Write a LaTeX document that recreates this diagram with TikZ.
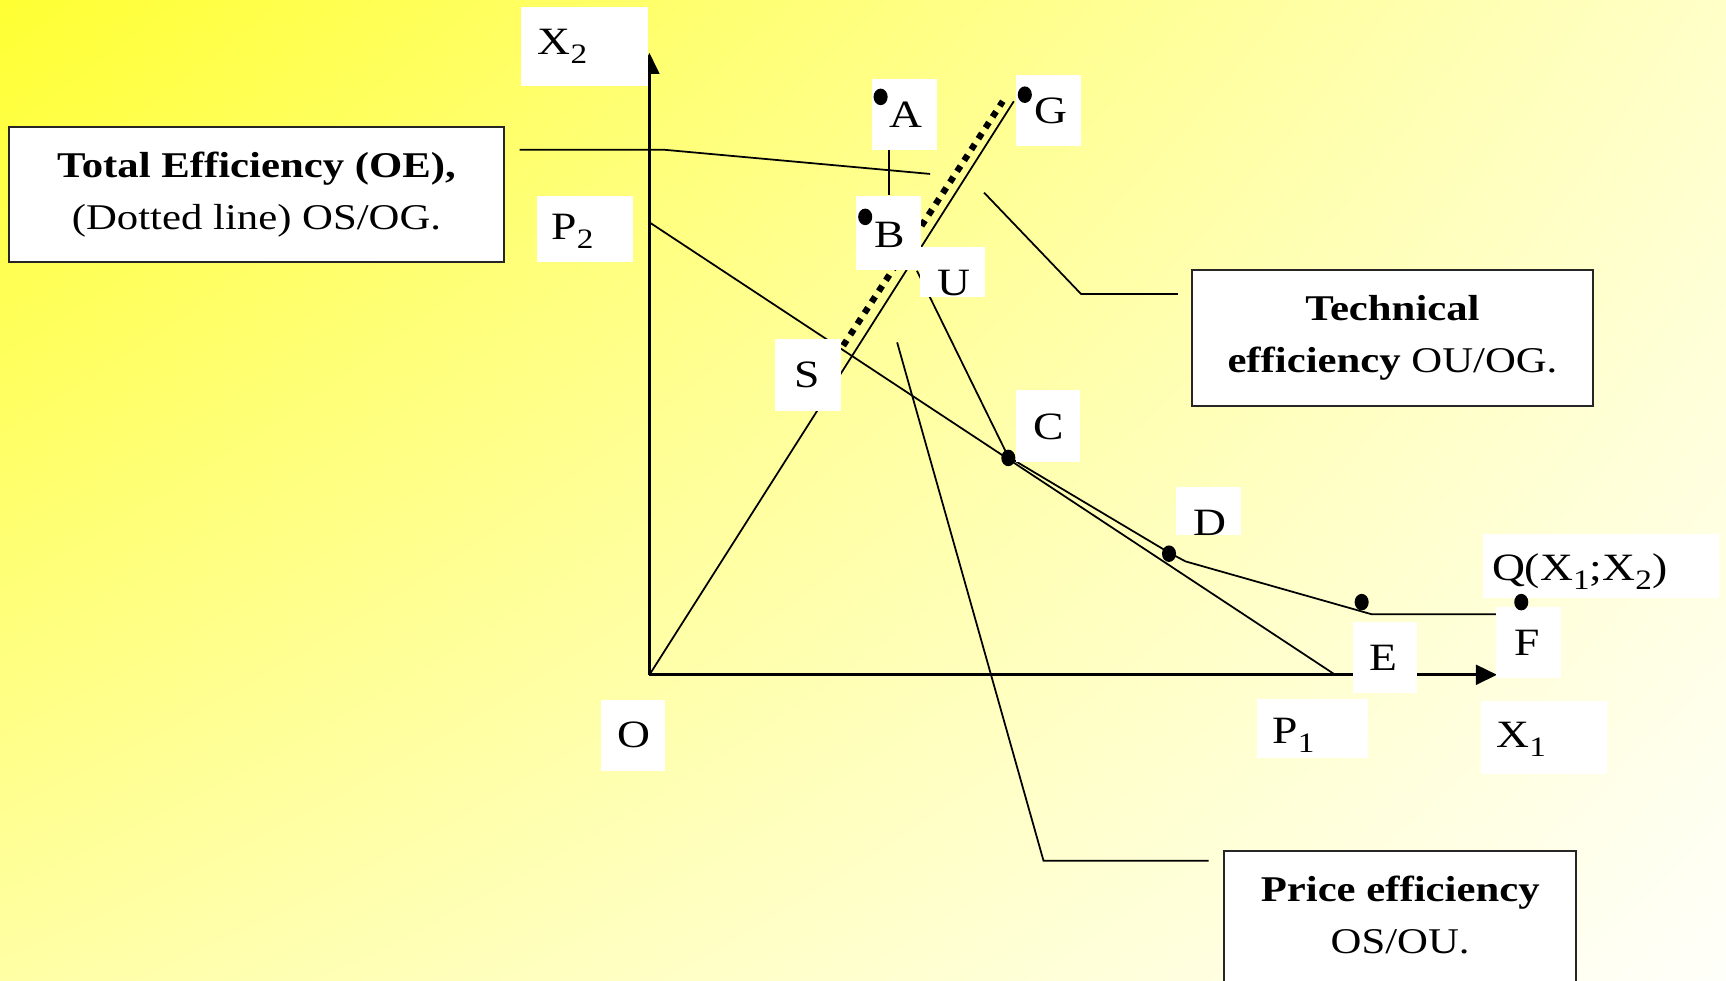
\documentclass[tikz,border=0pt]{standalone}
\usepackage{fontspec}
\setmainfont{Liberation Serif}[FakeStretch=1.18]
\usetikzlibrary{arrows.meta,shadings}
\newcommand\pxu{0.011008cm}
\newcommand\sbs[1]{\raisebox{-0.5ex}{\fontsize{8}{8}\selectfont #1}}
\definecolor{bgTL}{RGB}{255,255,51}
\definecolor{bgTR}{RGB}{255,255,200}
\definecolor{bgBL}{RGB}{255,255,165}
\definecolor{bgBR}{RGB}{255,255,250}
\tikzset{
  axisline/.style={line width=0.8pt, -{Triangle[length=6pt,width=5.6pt]}},
  thinline/.style={line width=0.5pt},
  dotline/.style={line width=1.8pt, dash pattern=on 1.8pt off 1.9pt},
  wbox/.style={fill=white, inner sep=0pt},
  lbl/.style={font=\fontsize{11}{13}\selectfont, inner sep=0pt},
  ebox/.style={draw=black!85, fill=white, line width=0.6pt, inner sep=0pt, align=center,
    font=\fontsize{10.3}{14.7}\selectfont},
  etext/.style={inner sep=0pt, align=center, font=\fontsize{10.3}{14.7}\selectfont},
  dotpt/.style={fill=black}
}
\begin{document}
\begin{tikzpicture}[x=0.011008cm, y=-0.011008cm]
\clip (0,0) rectangle (1568,891);
\shade[upper left=bgTL, upper right=bgTR, lower left=bgBL, lower right=bgBR] (0,0) rectangle (1568,891);

% key points
\coordinate (O) at (590,613);
\coordinate (ytip) at (590,48);
\coordinate (xtip) at (1360,613);
\coordinate (p2) at (590,202);
\coordinate (p1) at (1213,613);
\coordinate (gend) at (921,92);
\coordinate (dotS) at (766,314);
\coordinate (dotG) at (911,92);
\coordinate (u) at (833,246);
\coordinate (c) at (916,415);
\coordinate (d) at (1062,502);
\coordinate (d2) at (1077,510);
\coordinate (e) at (1246,558);
\coordinate (f) at (1360,558);
% leader points
\coordinate (tl1) at (472,136);
\coordinate (tl2) at (603,136);
\coordinate (tl3) at (845,158);
\coordinate (te1) at (894,175);
\coordinate (te2) at (982,267);
\coordinate (te3) at (1070,267);
\coordinate (pe1) at (815,311);
\coordinate (pe2) at (948,782);
\coordinate (pe3) at (1098,782);

% lines
\draw[axisline] (O) -- (ytip);
\draw[axisline] (O) -- (xtip);
\draw[thinline] (O) -- (gend);
\draw[dotline] (dotS) -- (dotG);
\draw[thinline] (p2) -- (p1);
\draw[thinline] (u) -- (c) -- (d) -- (d2) -- (e) -- (f);
\draw[thinline] (tl1) -- (tl2) -- (tl3);
\draw[thinline] (te1) -- (te2) -- (te3);
\draw[thinline] (pe1) -- (pe2) -- (pe3);

% white label boxes
\node[wbox, minimum width=116*\pxu, minimum height=72*\pxu] (x2box) at (531,42) {};
\node[lbl] (x2) at (511,42) {X\sbs{2}};
\node[wbox, minimum width=87*\pxu, minimum height=60*\pxu] (p2box) at (531.5,208) {};
\node[lbl] (p2lbl) at (520,210) {P\sbs{2}};
\node[wbox, minimum width=59*\pxu, minimum height=64*\pxu] (abox) at (821.5,104) {};
\node[lbl] (albl) at (823,104) {A};
\node[wbox, minimum width=59*\pxu, minimum height=67*\pxu] (bbox) at (807.5,211.5) {};
\node[lbl] (blbl) at (808,213) {B};
\node[wbox, minimum width=59*\pxu, minimum height=65*\pxu] (gbox) at (952.5,100.5) {};
\node[lbl] (glbl) at (955,101) {G};
\node[wbox, minimum width=59*\pxu, minimum height=46*\pxu] (ubox) at (865.5,247) {};
\node[lbl] (ulbl) at (867,257) {U};
\node[wbox, minimum width=60*\pxu, minimum height=65*\pxu] (sbox) at (734,340.5) {};
\node[lbl] (slbl) at (733,341) {S};
\node[wbox, minimum width=58*\pxu, minimum height=66*\pxu] (cbox) at (952,387) {};
\node[lbl] (clbl) at (953,388) {C};
\node[wbox, minimum width=59*\pxu, minimum height=44*\pxu] (dbox) at (1098,464) {};
\node[lbl] (dlbl) at (1099,475) {D};
\node[wbox, minimum width=215*\pxu, minimum height=58*\pxu] (qbox) at (1454.5,514) {};
\node[lbl] (qlbl) at (1435,519) {Q(X\sbs{1};X\sbs{2})};
\node[wbox, minimum width=59*\pxu, minimum height=65*\pxu] (fbox) at (1388.5,583.5) {};
\node[lbl] (flbl) at (1387,584) {F};
\node[wbox, minimum width=58*\pxu, minimum height=65*\pxu] (ebox) at (1258,597.5) {};
\node[lbl] (elbl) at (1257,598) {E};
\node[wbox, minimum width=101*\pxu, minimum height=54*\pxu] (p1box) at (1192.5,662) {};
\node[lbl] (p1lbl) at (1175,668) {P\sbs{1}};
\node[wbox, minimum width=115*\pxu, minimum height=66*\pxu] (x1box) at (1402.5,670) {};
\node[lbl] (x1lbl) at (1382,672) {X\sbs{1}};
\node[wbox, minimum width=58*\pxu, minimum height=64*\pxu] (obox) at (575,668) {};
\node[lbl] (olbl) at (576,668) {O};

\draw[thinline] (bbox.north) -- (bbox.north |- abox.south);

% bordered boxes
\node[ebox, minimum width=450*\pxu, minimum height=123*\pxu] (total) at (233,176.5)
  {\textbf{Total Efficiency (OE),}\\(Dotted line) OS/OG.};
\node[ebox, minimum width=364*\pxu, minimum height=124*\pxu] (tech) at (1265,307)
  {\textbf{Technical}\\\textbf{efficiency} OU/OG.};
\node[ebox, minimum width=320*\pxu, minimum height=167*\pxu] (price) at (1272,856.5) {};
\node[etext] (pricetext) at (1272,831) {\textbf{Price efficiency}\\OS/OU.};

% dots
\coordinate (dA) at (800,88);
\coordinate (dB) at (786,197);
\coordinate (dG) at (931,86);
\coordinate (dC) at (916,416);
\coordinate (dD) at (1062,503);
\coordinate (dE) at (1237,547);
\coordinate (dQ) at (1382,547);
\foreach \p in {dA,dB,dG,dC,dD,dE,dQ}
  \fill[dotpt] (\p) ellipse [x radius=2pt, y radius=2.35pt];
\end{tikzpicture}
\end{document}
